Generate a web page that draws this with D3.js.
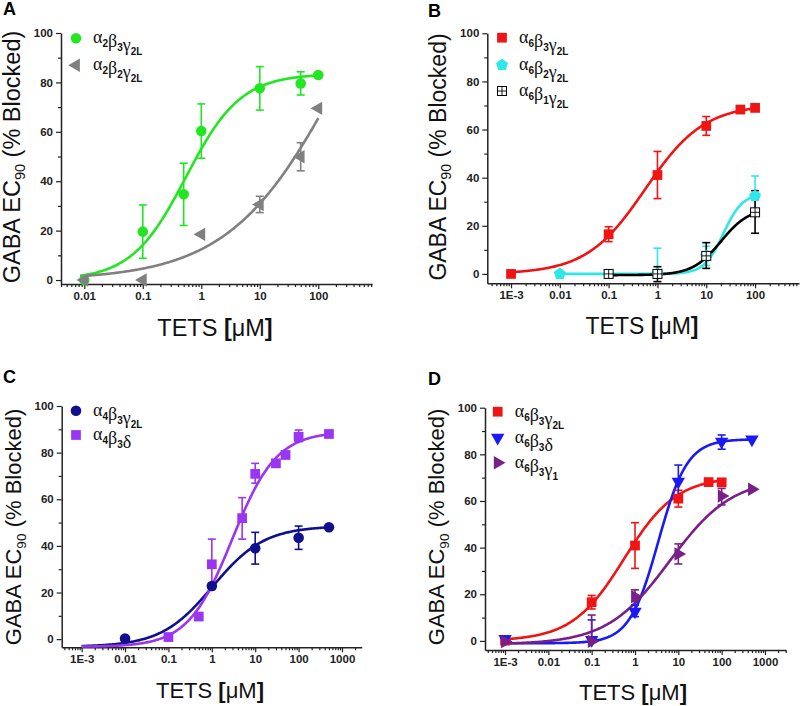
<!DOCTYPE html>
<html><head><meta charset="utf-8">
<script src="https://cdn.jsdelivr.net/npm/d3@7"></script>
<style>body{margin:0;background:#fff}</style>
</head><body>
<svg id="chart" width="800" height="706"></svg>
<script>
// ---------------- DATA ----------------
// Panel A
const concA_a2b3g2L = [0.01, 0.1, 0.5, 1, 10, 50, 100];
const valA_a2b3g2L  = [0, 19.6, 34.7, 60.3, 77.6, 79.6, 83];
const errA_a2b3g2L  = [0, 10.8, 12.6, 11, 8.8, 4.7, 0];
const fitA_a2b3g2L  = [0, 83.5, -0.26, 0.93];          // bottom, top, logEC50, hill
const concA_a2b2g2L = [0.01, 0.1, 1, 10, 50, 100];
const valA_a2b2g2L  = [0, 0, 18.5, 30.6, 49.9, 69.5];
const errA_a2b2g2L  = [0, 0, 0, 3.3, 5.7, 0];
const fitA_a2b2g2L  = [0, 170, 2.45, 0.45];
// Panel B
const concB_a6b3g2L = [0.001, 0.1, 1, 10, 50, 100];
const valB_a6b3g2L  = [0, 16.5, 41.1, 61.5, 68.3, 69];
const errB_a6b3g2L  = [0, 3.1, 9.8, 3.9, 0.8, 0];
const fitB_a6b3g2L  = [0, 70.5, -0.25, 0.72];
const concB_a6b2g2L = [0.01, 1, 10, 100];
const valB_a6b2g2L  = [0, 0, 7.5, 32.4];
const errUpB_a6b2g2L = [0, 10.7, 4, 8.3];
const errDnB_a6b2g2L = [0, 0, 4, 7.2];
const fitB_a6b2g2L  = [0, 33.5, 1.35, 2.2];
const concB_a6b1g2L = [0.1, 1, 10, 100];
const valB_a6b1g2L  = [0, 0, 7.5, 25.6];
const errUpB_a6b1g2L = [0, 3, 5.5, 9];
const errDnB_a6b1g2L = [0, 3.2, 5.2, 8.7];
const fitB_a6b1g2L  = [-0.5, 27.5, 1.3, 1.5];
// Panel C
const concC_a4b3g2L = [0.01, 1, 10, 100, 500];
const valC_a4b3g2L  = [0.3, 22.8, 39, 43.5, 48];
const errC_a4b3g2L  = [0, 0, 6.8, 5, 0];
const fitC_a4b3g2L  = [-3.3, 48.5, 0.02, 0.73];
const concC_a4b3d   = [0.1, 0.5, 1, 5, 10, 30, 50, 100, 500];
const valC_a4b3d    = [0.9, 9.7, 32.1, 51.9, 70.9, 75.4, 79, 86.8, 88];
const errUpC_a4b3d  = [0, 0, 10.8, 8.8, 4.5, 0, 0, 2.9, 0];
const errDnC_a4b3d  = [0, 0, 10.8, 9, 4, 0, 0, 2.1, 0];
const fitC_a4b3d    = [-3.3, 89, 0.47, 0.85];
// Panel D
const concD_a6b3g2L = [0.001, 0.1, 1, 10, 50, 100];
const valD_a6b3g2L  = [0.1, 16.6, 40.9, 61, 68.1, 68];
const errD_a6b3g2L  = [0, 2.9, 9.8, 3.6, 0, 0];
const fitD_a6b3g2L  = [0, 70.5, -0.25, 0.72];
const concD_a6b3d   = [0.001, 0.1, 1, 10, 100, 500];
const valD_a6b3d    = [0.9, 0.4, 12.6, 68.3, 85.4, 86.4];
const errUpD_a6b3d  = [0, 8.6, 2.8, 7.1, 2.9, 0];
const errDnD_a6b3d  = [0, 0, 2.2, 7, 3.2, 0];
const fitD_a6b3d    = [-1, 86.5, 0.54, 1.3];
const concD_a6b3g1  = [0.001, 0.1, 1, 10, 100, 500];
const valD_a6b3g1   = [-0.3, -0.2, 19, 37.3, 62.1, 65];
const errUpD_a6b3g1 = [0, 11.3, 2.9, 4.3, 3.3, 0];
const errDnD_a6b3g1 = [0, 0, 2, 4.3, 3.8, 0];
const fitD_a6b3g1   = [-1.5, 70, 0.8, 0.6];

// legend labels: [main, subscript]
const labA1 = [["α","2"],["β","3"],["γ","2L"]];
const labA2 = [["α","2"],["β","2"],["γ","2L"]];
const labB1 = [["α","6"],["β","3"],["γ","2L"]];
const labB2 = [["α","6"],["β","2"],["γ","2L"]];
const labB3 = [["α","6"],["β","1"],["γ","2L"]];
const labC1 = [["α","4"],["β","3"],["γ","2L"]];
const labC2 = [["α","4"],["β","3"],["δ",""]];
const labD1 = [["α","6"],["β","3"],["γ","2L"]];
const labD2 = [["α","6"],["β","3"],["δ",""]];
const labD3 = [["α","6"],["β","3"],["γ","1"]];

const yMajorTicks = [0, 20, 40, 60, 80, 100];
const yMinorTicks = [10, 30, 50, 70, 90];
const xTickLabels = {"-3":"1E-3","-2":"0.01","-1":"0.1","0":"1","1":"10","2":"100","3":"1000"};

// ---------------- LAYOUT ----------------
const panels = [
 {letter:"A", lx:3, ly:15, left:61, right:372, top:33, bottom:284, yMin:-1.6, xMin:Math.pow(10,-2.398), xMax:Math.pow(10,2.918),
  xtx:215, xty:336, ytx:20, yty:157, tsize:23.5, legX:76, legY:[38.3,65.3],
  series:[
   {conc:concA_a2b3g2L, val:valA_a2b3g2L, up:errA_a2b3g2L, dn:errA_a2b3g2L, fit:fitA_a2b3g2L, from:0.0085, to:100, color:"#22e622", sym:"circle", lab:labA1},
   {conc:concA_a2b2g2L, val:valA_a2b2g2L, up:errA_a2b2g2L, dn:errA_a2b2g2L, fit:fitA_a2b2g2L, from:0.0085, to:100, color:"#808080", sym:"left", lab:labA2}
  ]},
 {letter:"B", lx:428, ly:17, left:487.3, right:799, top:33.3, bottom:283.3, yMin:-3.9, xMin:Math.pow(10,-3.486), xMax:Math.pow(10,2.9),
  xtx:642, xty:334, ytx:446, yty:157, tsize:23, legX:502, legY:[37.7,65,91],
  series:[
   {conc:concB_a6b3g2L, val:valB_a6b3g2L, up:errB_a6b3g2L, dn:errB_a6b3g2L, fit:fitB_a6b3g2L, from:0.001, to:100, color:"#f01414", sym:"square", lab:labB1},
   {conc:concB_a6b2g2L, val:valB_a6b2g2L, up:errUpB_a6b2g2L, dn:errDnB_a6b2g2L, fit:fitB_a6b2g2L, from:0.01, to:100, color:"#2ee8e8", sym:"pentagon", lab:labB2},
   {conc:concB_a6b1g2L, val:valB_a6b1g2L, up:errUpB_a6b1g2L, dn:errDnB_a6b1g2L, fit:fitB_a6b1g2L, from:0.1, to:100, color:"#000000", sym:"crossSquare", lab:labB3}
  ]},
 {letter:"C", lx:3, ly:383, left:61.7, right:361.7, top:406, bottom:647.3, yMin:-3.5, xMin:Math.pow(10,-3.46), xMax:Math.pow(10,3.454),
  xtx:210, xty:698, ytx:21, yty:527, tsize:22, legX:76, legY:[410.7,435],
  series:[
   {conc:concC_a4b3g2L, val:valC_a4b3g2L, up:errC_a4b3g2L, dn:errC_a4b3g2L, fit:fitC_a4b3g2L, from:0.001, to:500, color:"#10108e", sym:"circle", lab:labC1},
   {conc:concC_a4b3d, val:valC_a4b3d, up:errUpC_a4b3d, dn:errDnC_a4b3d, fit:fitC_a4b3d, from:0.001, to:500, color:"#9a35f2", sym:"square", lab:labC2}
  ]},
 {letter:"D", lx:428, ly:385, left:485, right:785.7, top:407.7, bottom:650, yMin:-3.9, xMin:Math.pow(10,-3.462), xMax:Math.pow(10,3.478),
  xtx:633, xty:700, ytx:444, yty:527, tsize:22, legX:497.7, legY:[411.7,437.7,462.7],
  series:[
   {conc:concD_a6b3g2L, val:valD_a6b3g2L, up:errD_a6b3g2L, dn:errD_a6b3g2L, fit:fitD_a6b3g2L, from:0.001, to:100, color:"#f01414", sym:"square", lab:labD1},
   {conc:concD_a6b3d, val:valD_a6b3d, up:errUpD_a6b3d, dn:errDnD_a6b3d, fit:fitD_a6b3d, from:0.001, to:500, color:"#1a1af5", sym:"down", lab:labD2},
   {conc:concD_a6b3g1, val:valD_a6b3g1, up:errUpD_a6b3g1, dn:errDnD_a6b3g1, fit:fitD_a6b3g1, from:0.001, to:500, color:"#7a1f88", sym:"right", lab:labD3}
  ]}
];

const svg = d3.select("#chart");
const SANS = "'Liberation Sans', Arial, sans-serif";
const SERIF = "'Liberation Serif', 'Times New Roman', serif";

function hill(f){ return x => f[0] + (f[1]-f[0])/(1+Math.pow(10,(f[2]-Math.log10(x))*f[3])); }

const pentagonSym = {draw(ctx, size){ const r=Math.sqrt(size/2.378); for(let k=0;k<5;k++){const a=-Math.PI/2+k*2*Math.PI/5; const px=r*Math.cos(a), py=r*Math.sin(a); k?ctx.lineTo(px,py):ctx.moveTo(px,py);} ctx.closePath(); }};

function drawMarker(g, sym, color, x, y){
  if(sym==="crossSquare"){
    const s=4.5;
    const gg=g.append("g").attr("transform",`translate(${x},${y})`);
    gg.append("rect").attr("x",-s).attr("y",-s).attr("width",2*s).attr("height",2*s).attr("fill","#fff").attr("stroke",color).attr("stroke-width",1);
    gg.append("line").attr("x1",-s).attr("x2",s).attr("y1",0).attr("y2",0).attr("stroke",color).attr("stroke-width",0.9);
    gg.append("line").attr("y1",-s).attr("y2",s).attr("x1",0).attr("x2",0).attr("stroke",color).attr("stroke-width",0.9);
    return;
  }
  let type, size, rot=0;
  if(sym==="circle"){type=d3.symbolCircle; size=88;}
  else if(sym==="square"){type=d3.symbolSquare; size=95;}
  else if(sym==="pentagon"){type=pentagonSym; size=95;}
  else {type=d3.symbolTriangle; size=78; rot = sym==="left"?-90: sym==="right"?90: sym==="down"?180:0;}
  g.append("path").attr("d", d3.symbol(type,size)())
   .attr("transform",`translate(${x},${y}) rotate(${rot})`).attr("fill",color);
}

panels.forEach(p=>{
  const x = d3.scaleLog().domain([p.xMin,p.xMax]).range([p.left,p.right]);
  const y = d3.scaleLinear().domain([p.yMin,100]).range([p.bottom,p.top]);
  const g = svg.append("g");

  // panel letter
  g.append("text").attr("x",p.lx).attr("y",p.ly).text(p.letter)
   .attr("font-family",SANS).attr("font-weight","bold").attr("font-size",18).attr("fill","#000");

  // x ticks
  const eLo=Math.ceil(Math.log10(p.xMin)), eHi=Math.floor(Math.log10(p.xMax));
  const majors=[], minors=[];
  for(let e=eLo-1;e<=eHi;e++){
    const v=Math.pow(10,e); if(v>=p.xMin && v<=p.xMax) majors.push(v);
    for(let k=2;k<=9;k++){const m=k*v; if(m>=p.xMin&&m<=p.xMax) minors.push(m);}
  }
  const axisColor="#222";
  const gxm = g.append("g").attr("transform",`translate(0,${p.bottom})`)
    .call(d3.axisBottom(x).tickValues(minors).tickFormat("").tickSize(3).tickSizeOuter(0));
  gxm.select(".domain").remove();
  const gx = g.append("g").attr("transform",`translate(0,${p.bottom})`)
    .call(d3.axisBottom(x).tickValues(majors).tickFormat(v=>xTickLabels[String(Math.round(Math.log10(v)))]).tickSize(5).tickSizeOuter(0).tickPadding(3));
  const gym = g.append("g").attr("transform",`translate(${p.left},0)`)
    .call(d3.axisLeft(y).tickValues(yMinorTicks).tickFormat("").tickSize(3).tickSizeOuter(0));
  gym.select(".domain").remove();
  const gy = g.append("g").attr("transform",`translate(${p.left},0)`)
    .call(d3.axisLeft(y).tickValues(yMajorTicks).tickSize(5).tickSizeOuter(0).tickPadding(3));
  [gx,gy,gxm,gym].forEach(a=>{
    a.selectAll("line").attr("stroke",axisColor).attr("stroke-width",1.2);
    a.selectAll(".domain").attr("stroke",axisColor).attr("stroke-width",1.5);
    a.selectAll("text").attr("font-family",SANS).attr("font-weight","bold").attr("font-size",11.5).attr("fill","#222");
  });

  // axis titles
  const xt = g.append("text").attr("x",p.xtx).attr("y",p.xty).attr("text-anchor","middle")
    .attr("font-family",SANS).attr("font-size",p.tsize).attr("fill","#111");
  xt.append("tspan").text("TETS ");
  xt.append("tspan").attr("font-weight","bold").text("[");
  xt.append("tspan").text("μM");
  xt.append("tspan").attr("font-weight","bold").text("]");
  const yt = g.append("text").attr("transform",`translate(${p.ytx},${p.yty}) rotate(-90)`).attr("text-anchor","middle")
    .attr("font-family",SANS).attr("font-size",p.tsize).attr("fill","#111");
  yt.append("tspan").text("GABA EC");
  yt.append("tspan").attr("font-size",p.tsize*0.62).attr("dy",p.tsize*0.22).text("90");
  yt.append("tspan").attr("dy",-p.tsize*0.22).text(" (% Blocked)");

  // curves
  p.series.forEach(s=>{
    const f=hill(s.fit), n=240;
    const pts=d3.range(n).map(i=>{const cx=s.from*Math.pow(s.to/s.from,i/(n-1)); return [cx,f(cx)];});
    g.append("path").datum(pts).attr("fill","none").attr("stroke",s.color).attr("stroke-width",2.6)
     .attr("d",d3.line().x(d=>x(d[0])).y(d=>y(d[1])));
  });
  // error bars
  p.series.forEach(s=>{
    s.conc.forEach((c,i)=>{
      const up=s.up[i], dn=s.dn[i]; if(!up && !dn) return;
      const cx=x(c), y1=y(s.val[i]+up), y2=y(s.val[i]-dn);
      g.append("line").attr("x1",cx).attr("x2",cx).attr("y1",y1).attr("y2",y2).attr("stroke",s.color).attr("stroke-width",1.6);
      if(up) g.append("line").attr("x1",cx-4).attr("x2",cx+4).attr("y1",y1).attr("y2",y1).attr("stroke",s.color).attr("stroke-width",1.6);
      if(dn) g.append("line").attr("x1",cx-4).attr("x2",cx+4).attr("y1",y2).attr("y2",y2).attr("stroke",s.color).attr("stroke-width",1.6);
    });
  });
  // markers
  p.series.forEach(s=>{
    s.conc.forEach((c,i)=>drawMarker(g, s.sym, s.color, x(c), y(s.val[i])));
  });

  // legend
  p.series.forEach((s,i)=>{
    const ly=p.legY[i];
    drawMarker(g, s.sym, s.color, p.legX, ly);
    const t=g.append("text").attr("x",p.legX+17).attr("y",ly+5).attr("font-family",SERIF).attr("font-size",18).attr("fill","#111");
    s.lab.forEach(([m,sub])=>{
      t.append("tspan").text(m);
      if(sub){
        t.append("tspan").attr("dy",4).attr("font-family",SANS).attr("font-size",10).attr("font-weight","bold").text(sub);
        t.append("tspan").attr("dy",-4).text("");
      }
    });
  });
});
</script>
</body></html>
